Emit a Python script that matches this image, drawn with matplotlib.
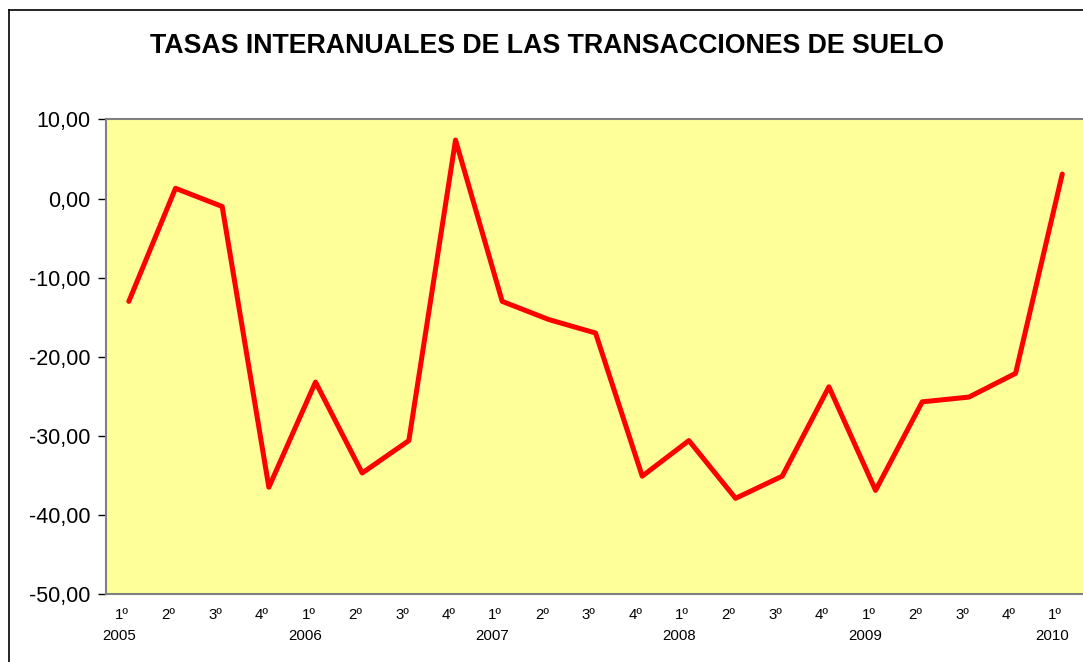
import matplotlib
matplotlib.use("Agg")
import matplotlib.pyplot as plt
from matplotlib.lines import Line2D
from matplotlib.transforms import ScaledTranslation

plt.rcParams['font.family'] = ['Liberation Sans', 'DejaVu Sans']

# Data
quarters = ["1º", "2º", "3º", "4º", "1º", "2º", "3º", "4º", "1º", "2º", "3º", "4º",
            "1º", "2º", "3º", "4º", "1º", "2º", "3º", "4º", "1º"]
years = ["2005", "2006", "2007", "2008", "2009", "2010"]
year_positions = [0, 4, 8, 12, 16, 20]
values = [-13.0, 1.3, -1.0, -36.5, -23.2, -34.7, -30.6, 7.4, -13.0, -15.3, -17.0,
          -35.1, -30.6, -37.9, -35.1, -23.8, -36.9, -25.7, -25.1, -22.1, 3.1]
y_ticks = [10, 0, -10, -20, -30, -40, -50]
title = "TASAS INTERANUALES DE LAS TRANSACCIONES DE SUELO"

W, H = 1083, 662
fig = plt.figure(figsize=(W / 100, H / 100), dpi=100)
fig.patch.set_facecolor("white")

# outer chart border (cut off at right and bottom)
fig.add_artist(Line2D([8.5 / W, 8.5 / W], [0, 1 - 9.5 / H], color="black", lw=1.2, transform=fig.transFigure))
fig.add_artist(Line2D([8.5 / W, 1.0], [1 - 9.5 / H, 1 - 9.5 / H], color="black", lw=1.2, transform=fig.transFigure))

left, right, top, bottom = 105.5, 1085.6, 119.5, 594.0
ax = fig.add_axes([left / W, 1 - bottom / H, (right - left) / W, (bottom - top) / H])
ax.set_facecolor("#FFFF99")

x = list(range(len(values)))
ax.plot(x, values, color="#FF0000", lw=3.6, solid_joinstyle="round", solid_capstyle="round")

ax.set_xlim(-0.5, len(values) - 0.5)
ax.set_ylim(-50, 10)
ax.set_yticks(y_ticks)
ax.set_yticklabels([f"{v:.2f}".replace(".", ",") for v in y_ticks], fontsize=15.5)
ax.tick_params(axis="y", direction="out", length=6, width=1, color="#000000", pad=5)

ax.set_xticks([])
for s in ["left", "top", "bottom"]:
    ax.spines[s].set_color("#808080")
    ax.spines[s].set_linewidth(1.5)
ax.spines["right"].set_visible(False)

off = ScaledTranslation(-7 / 100, 0, fig.dpi_scale_trans)
tr = ax.get_xaxis_transform() + off
for xi, q in zip(x, quarters):
    ax.text(xi, 1 - (615 - top) / (bottom - top), q, transform=tr, ha="center", va="center",
            fontsize=10.8, clip_on=False)
off2 = ScaledTranslation(-10 / 100, 0, fig.dpi_scale_trans)
tr2 = ax.get_xaxis_transform() + off2
for xp, yr in zip(year_positions, years):
    ax.text(xp, 1 - (636.5 - top) / (bottom - top), yr, transform=tr2, ha="center", va="center",
            fontsize=10.8, clip_on=False)

fig.text(546.5 / W, 1 - 46 / H, title, ha="center", va="center", fontsize=19.3, fontweight="bold")

fig.savefig("out.png", dpi=100, facecolor="white")
